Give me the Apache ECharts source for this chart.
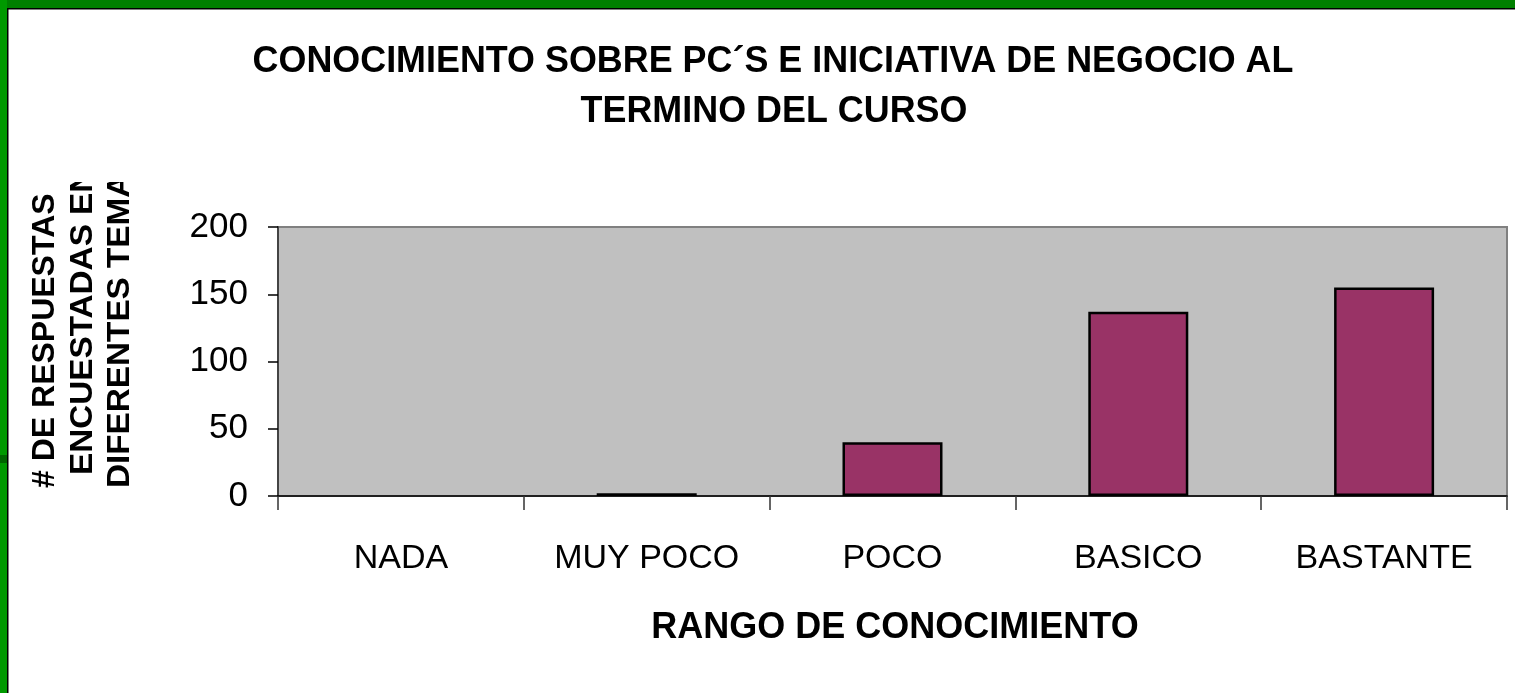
<!DOCTYPE html>
<html>
<head>
<meta charset="utf-8">
<script src="https://cdn.jsdelivr.net/npm/echarts@6/dist/echarts.min.js"></script>
<style>
html,body{margin:0;padding:0;background:#fff;}
#chart{width:1515px;height:693px;}
</style>
</head>
<body>
<div id="chart"></div>
<script>
var categories = ['NADA', 'MUY POCO', 'POCO', 'BASICO', 'BASTANTE'];
var values = [0, 2, 40, 137, 155];
var yTicks = { min: 0, max: 200, interval: 50 };
var titleLines = ['CONOCIMIENTO SOBRE PC\u00B4S E INICIATIVA DE NEGOCIO AL', 'TERMINO DEL CURSO'];
var yTitleLines = ['# DE RESPUESTAS', 'ENCUESTADAS EN', 'DIFERENTES TEMAS'];
var xTitle = 'RANGO DE CONOCIMIENTO';

var FONT = '"Liberation Sans", Arial, sans-serif';
var chart = echarts.init(document.getElementById('chart'), null, {renderer: 'canvas'});

var barData = values.map(function (v) {
  return v === 0 ? { value: v, itemStyle: { borderWidth: 0 } } : v;
});

var option = {
  backgroundColor: '#ffffff',
  animation: false,
  grid: {
    left: 278, top: 227, right: 8, bottom: 197,
    show: true, backgroundColor: '#C0C0C0', borderColor: '#808080', borderWidth: 2
  },
  xAxis: {
    type: 'category',
    data: categories,
    axisLine: { show: true, lineStyle: { color: '#000', width: 1.5 } },
    axisTick: { show: true, length: 14, lineStyle: { color: '#333', width: 1.5 } },
    axisLabel: { color: '#000', fontSize: 34, fontFamily: FONT, margin: 46 }
  },
  yAxis: {
    type: 'value',
    min: yTicks.min, max: yTicks.max, interval: yTicks.interval,
    axisLine: { show: true, lineStyle: { color: '#444', width: 2 } },
    axisTick: { show: true, length: 10, lineStyle: { color: '#000', width: 1.5 } },
    axisLabel: { color: '#000', fontSize: 35, fontFamily: FONT, margin: 30 },
    splitLine: { show: false }
  },
  series: [{
    type: 'bar',
    data: barData,
    barWidth: 100,
    itemStyle: { color: '#993366', borderColor: '#000', borderWidth: 2.5 }
  }],
  graphic: [
    { type: 'rect', shape: { x: 0, y: 0, width: 1515, height: 8 }, style: { fill: '#008000' }, z: 100 },
    { type: 'rect', shape: { x: 0, y: 8, width: 1515, height: 1.5 }, style: { fill: '#000' }, z: 100 },
    { type: 'rect', shape: { x: 0, y: 0, width: 7, height: 693 }, style: { fill: '#009900' }, z: 101 },
    { type: 'rect', shape: { x: 0, y: 455, width: 7, height: 8 }, style: { fill: '#006600' }, z: 101 },
    { type: 'rect', shape: { x: 7, y: 8, width: 1.5, height: 685 }, style: { fill: '#000' }, z: 101 },
    { type: 'text', x: 773, y: 62, scaleX: 0.97, z: 50,
      style: { text: titleLines[0], textAlign: 'center', textVerticalAlign: 'middle', fill: '#000',
               font: 'bold 37px ' + FONT } },
    { type: 'text', x: 774, y: 112, scaleX: 0.97, z: 50,
      style: { text: titleLines[1], textAlign: 'center', textVerticalAlign: 'middle', fill: '#000',
               font: 'bold 37px ' + FONT } },
    { type: 'text', x: 45, y: 488, rotation: Math.PI / 2, scaleX: 1.0, z: 50,
      style: { text: yTitleLines[0], textAlign: 'left', textVerticalAlign: 'middle', fill: '#000',
               font: 'bold 32px ' + FONT } },
    { type: 'text', x: 83, y: 475, rotation: Math.PI / 2, scaleX: 1.04, z: 50,
      style: { text: yTitleLines[1], textAlign: 'left', textVerticalAlign: 'middle', fill: '#000',
               font: 'bold 32px ' + FONT } },
    { type: 'text', x: 120, y: 488, rotation: Math.PI / 2, scaleX: 1.04, z: 50,
      style: { text: yTitleLines[2], textAlign: 'left', textVerticalAlign: 'middle', fill: '#000',
               font: 'bold 32px ' + FONT } },
    { type: 'rect', shape: { x: 10, y: 135, width: 150, height: 47 }, style: { fill: '#fff' }, z: 60 },
    { type: 'text', x: 895, y: 628, z: 50,
      style: { text: xTitle, textAlign: 'center', textVerticalAlign: 'middle', fill: '#000',
               font: 'bold 36px ' + FONT } }
  ]
};
chart.setOption(option);
</script>
</body>
</html>
